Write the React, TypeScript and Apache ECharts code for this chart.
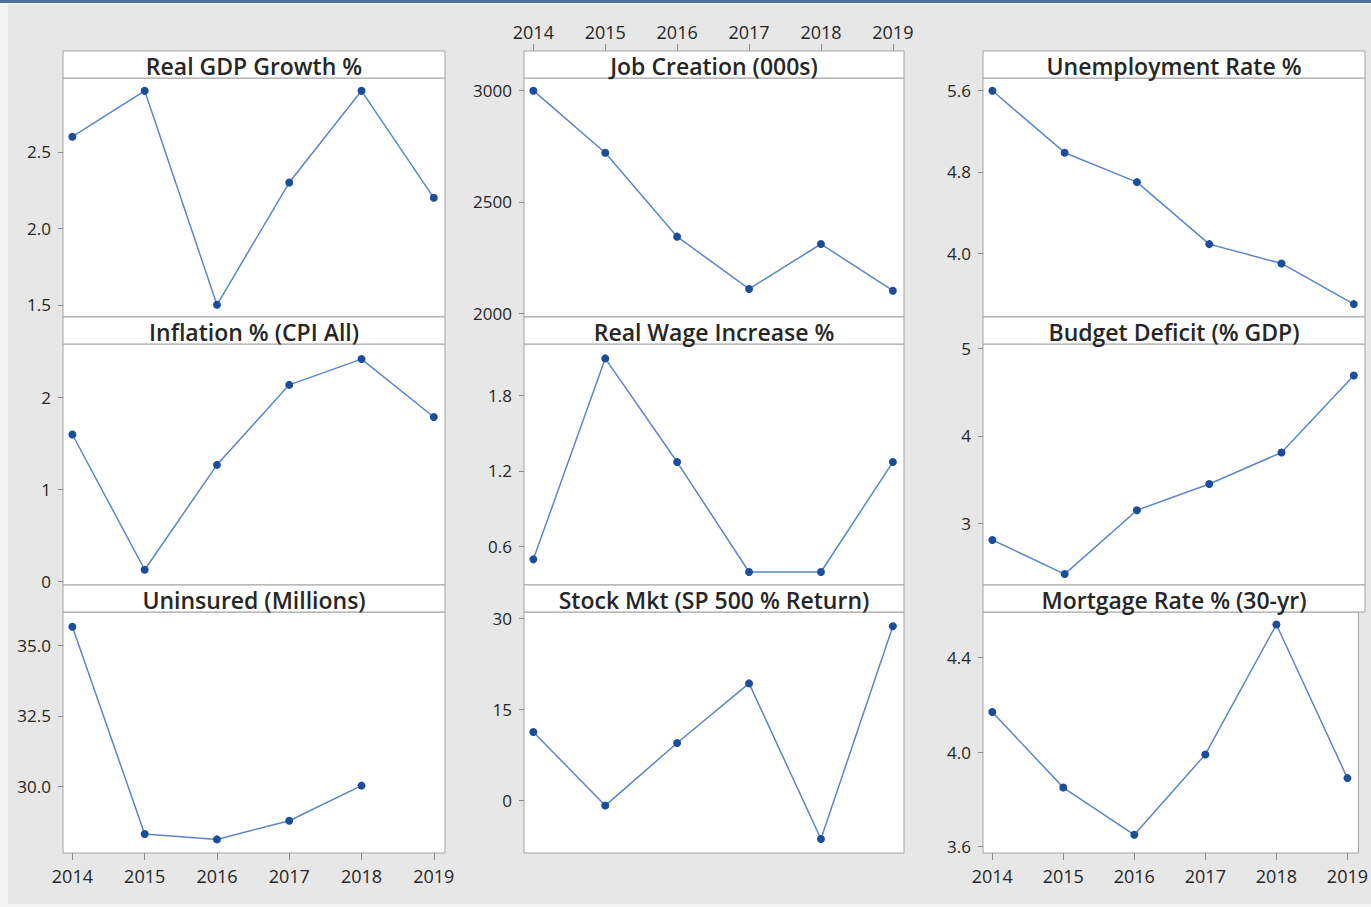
import React, { useEffect, useRef } from "react";
import * as echarts from "echarts";

const years = [2014, 2015, 2016, 2017, 2018, 2019];

const titles = [
  "Real GDP Growth %",
  "Inflation % (CPI All)",
  "Uninsured (Millions)",
  "Job Creation (000s)",
  "Real Wage Increase %",
  "Stock Mkt (SP 500 % Return)",
  "Unemployment Rate %",
  "Budget Deficit (% GDP)",
  "Mortgage Rate % (30-yr)",
];

const gdpGrowth = [2.6, 2.9, 1.5, 2.3, 2.9, 2.2];
const inflation = [1.6, 0.13, 1.27, 2.14, 2.42, 1.79];
const uninsured = [35.65, 28.33, 28.14, 28.8, 30.04, null];
const jobCreation = [3000, 2721, 2344, 2109, 2311, 2101];
const realWage = [0.5, 2.09, 1.27, 0.4, 0.4, 1.27];
const stockReturn = [11.3, -0.8, 9.5, 19.3, -6.3, 28.7];
const unemployment = [5.6, 4.99, 4.7, 4.09, 3.9, 3.5];
const budgetDeficit = [2.81, 2.42, 3.15, 3.45, 3.81, 4.69];
const mortgageRate = [4.17, 3.85, 3.65, 3.99, 4.54, 3.89];

const gdpTicks = [1.5, 2.0, 2.5];
const inflationTicks = [0, 1, 2];
const uninsuredTicks = [30.0, 32.5, 35.0];
const jobTicks = [2000, 2500, 3000];
const wageTicks = [0.6, 1.2, 1.8];
const stockTicks = [0, 15, 30];
const unempTicks = [4.0, 4.8, 5.6];
const deficitTicks = [3, 4, 5];
const mortgageTicks = [3.6, 4.0, 4.4];

const seriesData = [gdpGrowth, inflation, uninsured, jobCreation, realWage, stockReturn, unemployment, budgetDeficit, mortgageRate];
const tickSets = [gdpTicks, inflationTicks, uninsuredTicks, jobTicks, wageTicks, stockTicks, unempTicks, deficitTicks, mortgageTicks];
const tickDecimals = [1, 0, 1, 0, 1, 0, 1, 0, 1];
const yRanges: [number, number][] = [
  [1.42, 2.984],
  [-0.036, 2.584],
  [27.66, 36.17],
  [1983, 3057],
  [0.297, 2.204],
  [-8.6, 31.04],
  [3.373, 5.725],
  [2.295, 5.05],
  [3.573, 4.593],
];

// layout (positions / sizes)
const colLeft = [63, 524, 983];
const colRight = [445, 904, 1365];
const headerTop = [51, 317, 585];
const plotTop = [78, 344, 612];
const plotBottom = [317, 585, 853];
const HEADER_H = 27;
const X_MIN = 2013.87;
const X_MAX = 2019.155;

const FONT = "'Open Sans', 'Noto Sans', sans-serif";
const BORDER = "#a3a3a3";
const TEXT = "#262626";

export default function App() {
  const ref = useRef<HTMLDivElement>(null);

  useEffect(() => {
    if (!ref.current) return;
    const chart = echarts.init(ref.current, null, { renderer: "svg" });

    const grids: any[] = [];
    const xAxes: any[] = [];
    const yAxes: any[] = [];
    const series: any[] = [];
    const graphics: any[] = [
      { type: "rect", shape: { x: 0, y: 0, width: 1371, height: 907 }, style: { fill: "#f3f3f3" }, z: -10 },
      { type: "rect", shape: { x: 8, y: 4, width: 1363, height: 900 }, style: { fill: "#e7e7e7" }, z: -9 },
      { type: "rect", shape: { x: 0, y: 0, width: 1371, height: 3 }, style: { fill: "#4f6f9f" }, z: -8 },
    ];

    for (let i = 0; i < 9; i++) {
      const c = Math.floor(i / 3);
      const r = i % 3;
      const left = colLeft[c];
      const width = colRight[c] - colLeft[c];
      grids.push({
        left,
        top: plotTop[r],
        width,
        height: plotBottom[r] - plotTop[r],
        show: true,
        backgroundColor: "#ffffff",
        borderColor: BORDER,
        borderWidth: 1,
        containLabel: false,
      });
      const showBottom = r === 2 && c !== 1;
      const showTop = r === 0 && c === 1;
      xAxes.push({
        gridIndex: i,
        type: "value",
        min: X_MIN,
        max: X_MAX,
        position: showTop ? "top" : "bottom",
        offset: showTop ? HEADER_H : 0,
        show: showBottom || showTop,
        axisLine: { show: showTop, lineStyle: { color: BORDER } },
        axisTick: { show: true, length: 7, customValues: years, lineStyle: { color: "#8a8a8a" } },
        axisLabel: {
          customValues: years,
          formatter: (v: number) => String(Math.round(v)),
          color: TEXT,
          fontFamily: FONT,
          fontSize: 18,
          margin: showTop ? 10 : 14,
        },
        splitLine: { show: false },
      });
      const dec = tickDecimals[i];
      yAxes.push({
        gridIndex: i,
        type: "value",
        min: yRanges[i][0],
        max: yRanges[i][1],
        axisLine: { show: false },
        axisTick: { show: true, length: 5, customValues: tickSets[i], lineStyle: { color: "#8a8a8a" } },
        axisLabel: {
          customValues: tickSets[i],
          formatter: (v: number) => v.toFixed(dec),
          color: TEXT,
          fontFamily: FONT,
          fontSize: 17,
          margin: 12,
        },
        splitLine: { show: false },
      });
      series.push({
        type: "line",
        xAxisIndex: i,
        yAxisIndex: i,
        data: years.map((y, k) => [y, seriesData[i][k]]),
        symbol: "circle",
        symbolSize: 8,
        connectNulls: false,
        lineStyle: { color: "#5a86c8", width: 1.5 },
        itemStyle: { color: "#1c4d9a" },
        clip: false,
      });
      graphics.push({
        type: "rect",
        shape: { x: left, y: headerTop[r], width, height: HEADER_H },
        style: { fill: "#ffffff", stroke: BORDER, lineWidth: 1 },
        z: 5,
      });
      graphics.push({
        type: "text",
        x: left + width / 2,
        y: headerTop[r] + HEADER_H / 2 + 1,
        style: {
          text: titles[i],
          fill: TEXT,
          font: `600 23px ${FONT}`,
          textAlign: "center",
          textVerticalAlign: "middle",
        },
        z: 6,
      });
    }

    chart.setOption({
      animation: false,
      backgroundColor: "#e7e7e7",
      grid: grids,
      xAxis: xAxes,
      yAxis: yAxes,
      series,
      graphic: graphics,
    });
    return () => chart.dispose();
  }, []);

  return (
    <div
      ref={ref}
      style={{ position: "absolute", left: 0, top: 0, width: 1371, height: 907 }}
    />
  );
}
